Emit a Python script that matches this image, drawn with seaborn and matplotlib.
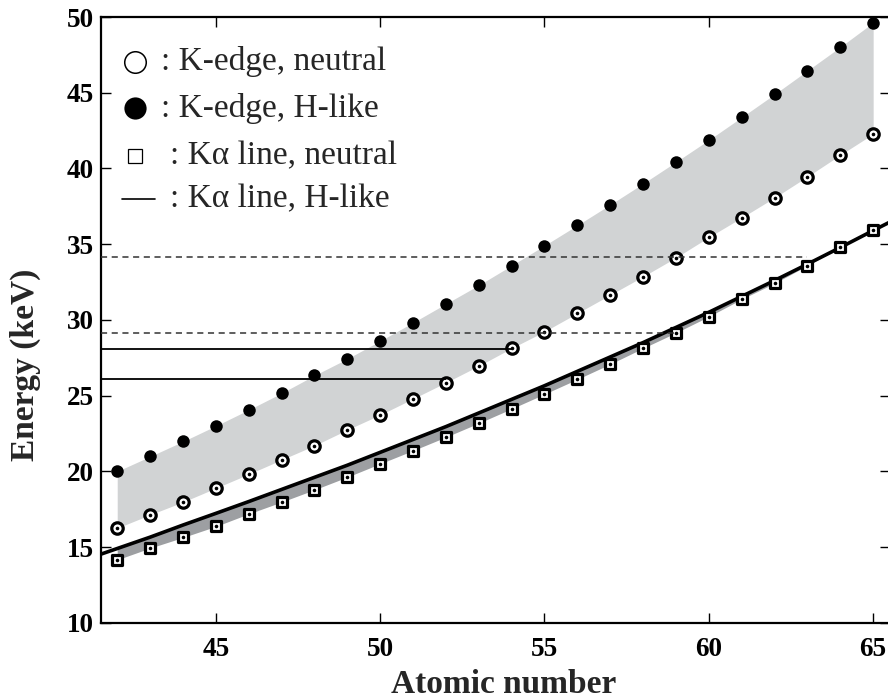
"""K-edge and K-alpha energies versus atomic number."""

import matplotlib
matplotlib.use("Agg")
import matplotlib.pyplot as plt
import seaborn as sns

# ---- data ----
atomic_number = list(range(42, 66))

kedge_neutral = [
    16.25, 17.13, 17.97, 18.89, 19.81, 20.76, 21.70, 22.74, 23.73, 24.79,
    25.86, 26.96, 28.13, 29.23, 30.44, 31.65, 32.86, 34.11, 35.46, 36.75,
    38.07, 39.46, 40.89, 42.28,
]
kedge_hlike = [
    20.00, 20.98, 21.97, 23.00, 24.06, 25.16, 26.33, 27.43, 28.61, 29.82,
    31.06, 32.29, 33.59, 34.91, 36.25, 37.61, 39.00, 40.43, 41.88, 43.38,
    44.90, 46.46, 48.02, 49.63,
]
kalpha_neutral = [
    14.16, 14.93, 15.63, 16.36, 17.19, 17.97, 18.78, 19.62, 20.50, 21.37,
    22.26, 23.18, 24.13, 25.10, 26.08, 27.08, 28.13, 29.15, 30.22, 31.37,
    32.42, 33.59, 34.80, 35.94,
]

# H-like K-alpha curve, sampled one unit beyond each end
line_number = list(range(41, 67))
kalpha_hlike = [
    14.15, 14.90, 15.65, 16.45, 17.22, 18.00, 18.80, 19.60, 20.40, 21.25,
    22.10, 22.95, 23.85, 24.75, 25.65, 26.60, 27.55, 28.50, 29.50, 30.50,
    31.55, 32.60, 33.68, 34.78, 35.90, 37.00,
]

# reference levels: energy and the atomic number where each stops
dashed_levels = [34.12, 29.15]
dashed_ends = [63, 59]
solid_levels = [28.05, 26.12]
solid_ends = [54, 52]

legend_labels = [
    "K-edge, neutral",
    "K-edge, H-like",
    "K\u03b1 line, neutral",
    "K\u03b1 line, H-like",
]

X_MIN, X_MAX = 41.5, 65.5
LIGHT_GRAY = "#d1d3d4"
DARK_GRAY = "#9d9fa2"

sns.set_theme(style="ticks")
plt.rcParams["font.family"] = ["Liberation Serif", "DejaVu Serif"]

fig = plt.figure(figsize=(8.88, 7.0), dpi=100)
ax = fig.add_axes([0.1135, 0.1104, 0.8883, 0.8653])

# ---- bands ----
ax.fill_between(atomic_number, kedge_neutral, kedge_hlike,
                color=LIGHT_GRAY, linewidth=0, zorder=1)
ax.fill_between(atomic_number, kalpha_neutral, kalpha_hlike[1:-1],
                color=DARK_GRAY, linewidth=0, zorder=2)

# ---- H-like K-alpha curve ----
sns.lineplot(x=line_number, y=kalpha_hlike, color="black",
             linewidth=2.6, ax=ax, zorder=3)

# ---- markers ----
sns.scatterplot(x=atomic_number, y=kedge_hlike, marker="o", s=9.0 ** 2,
                color="black", linewidth=0, ax=ax, zorder=4)
sns.scatterplot(x=atomic_number, y=kedge_neutral, marker="o", s=8.2 ** 2,
                color="white", edgecolor="black", linewidth=2.3,
                ax=ax, zorder=4)
sns.scatterplot(x=atomic_number, y=kalpha_neutral, marker="s", s=7.8 ** 2,
                color="white", edgecolor="black", linewidth=2.3,
                ax=ax, zorder=4)
for series in (kedge_neutral, kalpha_neutral):
    sns.scatterplot(x=atomic_number, y=series, marker="o", s=2.6 ** 2,
                    color="black", linewidth=0, ax=ax, zorder=5)

# ---- reference levels ----
for level, end in zip(dashed_levels, dashed_ends):
    ax.hlines(level, X_MIN, end, colors="#333333", linewidth=1.1,
              linestyles=(0, (4, 3)), zorder=6)
for level, end in zip(solid_levels, solid_ends):
    ax.hlines(level, X_MIN, end, colors="black", linewidth=1.3, zorder=6)

# ---- hand-made legend (glyph, colon, text) ----
rows_y = [0.926, 0.849, 0.771, 0.700]
glyph_x = 0.0434
ax.plot([glyph_x], [rows_y[0]], marker="o", ms=15.5, mfc="white",
        mec="black", mew=1.1, transform=ax.transAxes, clip_on=False)
ax.plot([glyph_x], [rows_y[1]], marker="o", ms=16, mfc="black",
        mec="black", mew=0, transform=ax.transAxes, clip_on=False)
ax.plot([glyph_x], [rows_y[2]], marker="s", ms=9.5, mfc="white",
        mec="black", mew=0.9, transform=ax.transAxes, clip_on=False)
ax.plot([0.0268, 0.0687], [rows_y[3], rows_y[3]], color="black",
        linewidth=1.2, transform=ax.transAxes, clip_on=False)
text_x = [0.0765, 0.0765, 0.0880, 0.0880]
for label, x, y in zip(legend_labels, text_x, rows_y):
    ax.text(x, y, ": " + label, transform=ax.transAxes, fontsize=24,
            ha="left", va="center", fontweight="normal")

# ---- axes ----
ax.set_xlim(X_MIN, X_MAX)
ax.set_ylim(10, 50)
ax.set_xticks([45, 50, 55, 60, 65])
ax.set_yticks(range(10, 51, 5))
ax.tick_params(direction="in", length=7, width=1.0, top=True, right=True,
               labelsize=19.5, colors="black")
ax.tick_params(axis="x", pad=10.5)
ax.tick_params(axis="y", pad=5)
for lab in ax.get_xticklabels() + ax.get_yticklabels():
    lab.set_fontweight("bold")
for spine in ax.spines.values():
    spine.set_linewidth(1.6)
    spine.set_color("black")

ax.set_xlabel("Atomic number", fontsize=24, fontweight="bold")
ax.set_ylabel("Energy (keV)", fontsize=24, fontweight="bold")
ax.xaxis.set_label_coords(0.511, -0.0765)
ax.yaxis.set_label_coords(-0.076, 0.425)

fig.savefig("out.png", dpi=100)
